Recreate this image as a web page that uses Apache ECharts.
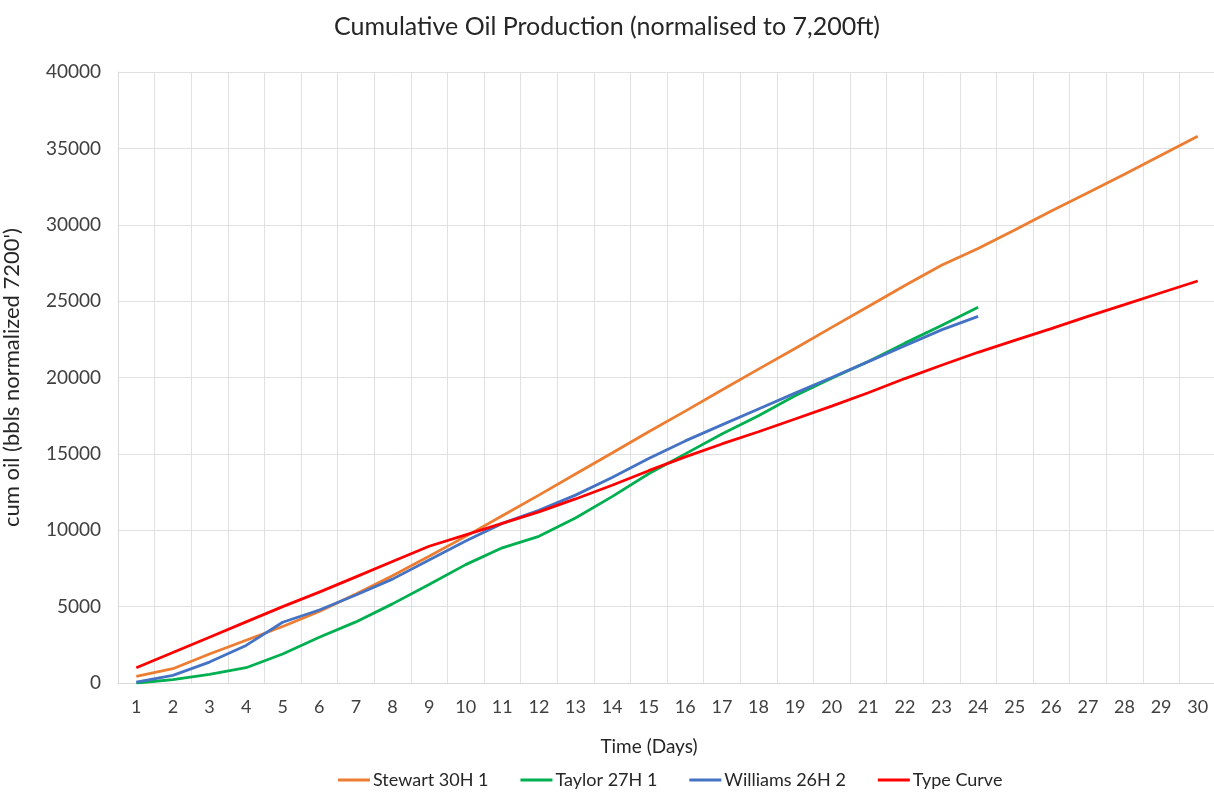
<!DOCTYPE html>
<html>
<head>
<meta charset="utf-8">
<script src="https://cdn.jsdelivr.net/npm/echarts@6/dist/echarts.min.js"></script>
<style>
html,body{margin:0;padding:0;background:#fff;}
#chart{width:1214px;height:792px;}
</style>
</head>
<body>
<div id="chart"></div>
<script>
const days = ['1','2','3','4','5','6','7','8','9','10','11','12','13','14','15','16','17','18','19','20','21','22','23','24','25','26','27','28','29','30'];
const stewart = [435, 935, 1900, 2800, 3700, 4680, 5830, 7020, 8300, 9600, 10950, 12300, 13680, 15060, 16450, 17800, 19180, 20550, 21900, 23280, 24650, 26020, 27350, 28450, 29650, 30900, 32100, 33300, 34550, 35800];
const taylor = [0, 220, 560, 1000, 1900, 3000, 4000, 5180, 6450, 7750, 8850, 9600, 10800, 12200, 13700, 15000, 16300, 17500, 18800, 19950, 21050, 22250, 23400, 24600];
const williams = [50, 500, 1370, 2460, 3980, 4780, 5760, 6800, 8050, 9300, 10450, 11300, 12300, 13450, 14700, 15850, 16900, 17940, 18975, 20000, 21040, 22080, 23120, 24000];
const typeCurve = [1000, 2000, 3000, 4000, 5000, 5950, 6950, 7950, 8950, 9700, 10450, 11200, 12050, 12950, 13900, 14800, 15650, 16450, 17280, 18130, 19000, 19930, 20800, 21650, 22430, 23200, 24000, 24770, 25550, 26320];
const seriesNames = ['Stewart 30H 1', 'Taylor 27H 1', 'Williams 26H 2', 'Type Curve'];
const colors = ['#ED7D31', '#00B050', '#4472C4', '#FF0000'];

const FONT = 'Lato, "Open Sans", sans-serif';
const chart = echarts.init(document.getElementById('chart'));
const dataSets = [stewart, taylor, williams, typeCurve];
chart.setOption({
  animation: false,
  backgroundColor: '#ffffff',
  color: colors,
  title: {
    text: 'Cumulative Oil Production (normalised to 7,200ft)',
    left: 'center',
    top: 9,
    textStyle: {fontFamily: FONT, fontSize: 25, fontWeight: 'normal', color: '#262626'}
  },
  legend: {
    left: 333,
    top: 766,
    itemWidth: 32,
    itemHeight: 3,
    itemGap: 32,
    icon: 'rect',
    textStyle: {fontFamily: FONT, fontSize: 18, color: '#262626', padding: [0,0,0,-2]},
    data: seriesNames
  },
  grid: {left: 118, top: 72, width: 1098, height: 611, containLabel: false, outerBoundsMode: 'none'},
  xAxis: {
    type: 'category',
    data: days,
    boundaryGap: true,
    name: 'Time (Days)',
    nameLocation: 'middle',
    nameGap: 54,
    nameTextStyle: {fontFamily: FONT, fontSize: 19, color: '#262626', padding: [0, 36, 0, 0]},
    axisLine: {show: true, lineStyle: {color: '#d9d9d9', width: 1}},
    axisTick: {show: false},
    axisLabel: {fontFamily: FONT, fontSize: 18, color: '#404040', margin: 15},
    splitLine: {show: true, interval: 0, lineStyle: {color: '#e0e0e0', width: 1}}
  },
  yAxis: {
    type: 'value',
    min: 0,
    max: 40000,
    interval: 5000,
    name: "cum oil (bbls normalized 7200')",
    nameLocation: 'middle',
    nameGap: 95,
    nameTextStyle: {fontFamily: FONT, fontSize: 22, color: '#262626'},
    axisLine: {show: true, lineStyle: {color: '#d9d9d9', width: 1}},
    axisTick: {show: false},
    axisLabel: {fontFamily: FONT, fontSize: 19, color: '#404040', margin: 17, formatter: v => String(v)},
    splitLine: {show: true, lineStyle: {color: '#e0e0e0', width: 1}}
  },
  series: seriesNames.map((n, i) => ({
    name: n,
    type: 'line',
    data: dataSets[i],
    symbol: 'none',
    smooth: false,
    lineStyle: {color: colors[i], width: 2.8},
    itemStyle: {color: colors[i]}
  }))
});
</script>
</body>
</html>
